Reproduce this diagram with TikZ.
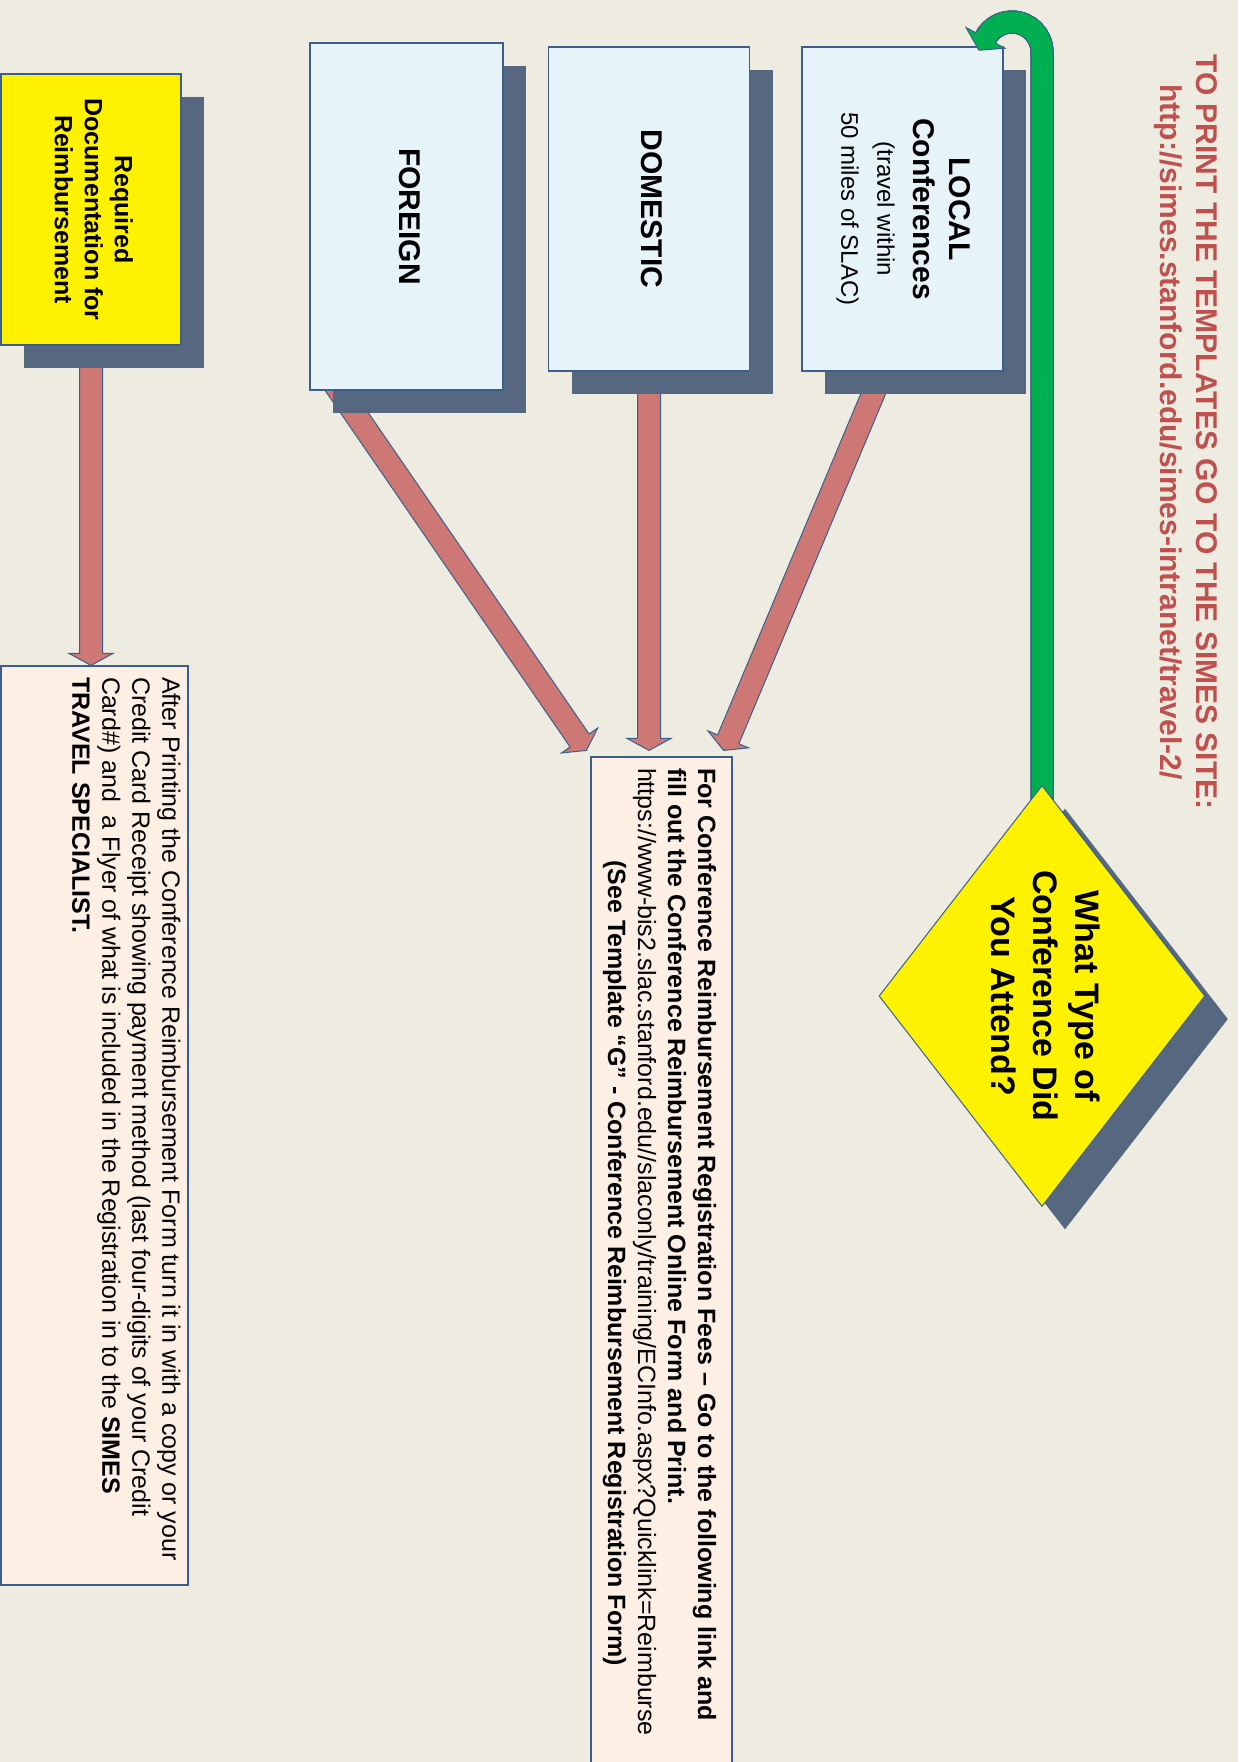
\documentclass[tikz,border=0pt]{standalone}
\usepackage{fontspec}
\setmainfont{Liberation Sans}
\usepackage{graphicx}
\usepackage{tikz}
\usetikzlibrary{calc,shapes.geometric,shadows}

\definecolor{pagebg}{HTML}{EEEBE0}
\definecolor{boxblue}{HTML}{E6F3F8}
\definecolor{boxpink}{HTML}{FDEFE3}
\definecolor{boxline}{HTML}{3B5E8C}
\definecolor{shade}{HTML}{56687F}
\definecolor{arrowred}{HTML}{CD7874}
\definecolor{titlered}{HTML}{C0504D}
\definecolor{turngreen}{HTML}{00B050}

\pgfdeclarelayer{back}
\pgfdeclarelayer{mid}
\pgfsetlayers{back,mid,main}

\tikzset{
  shadowed/.style={drop shadow={shadow xshift=11.5pt,shadow yshift=-11.5pt,fill=shade,opacity=1}},
  typebox/.style={draw=boxline,line width=0.6pt,fill=boxblue,shadowed,inner sep=0pt,
    minimum width=100.5pt,minimum height=162pt,font=\fontsize{15}{18}\selectfont\bfseries},
  yellowbox/.style={draw=boxline,line width=0.6pt,fill=yellow,shadowed,inner sep=0pt},
  notebox/.style={draw=boxline,line width=0.6pt,fill=boxpink,inner sep=0pt,
    font=\fontsize{12.5}{15}\selectfont},
  blockarrow/.style={fill=arrowred,draw=boxline,line width=0.5pt},
  uturnline/.style={draw=boxline,line width=0.5pt,double=turngreen,double distance=10.5pt}
}

\newcommand{\sidetext}[1]{\rotatebox{-90}{\begin{tabular}{@{}c@{}}#1\end{tabular}}}
\newcommand{\sidepar}[3]{\rotatebox{-90}{\begin{minipage}[c][#1][t]{#2}\raggedright #3\end{minipage}}}
\newcommand{\blockarrow}[2]{%
  \coordinate (hb) at ($(#2)!6pt!(#1)$);
  \filldraw[blockarrow] ($(#1)!5.75pt!90:(#2)$) -- ($(hb)!5.75pt!90:(#2)$)
    -- ($(hb)!11pt!90:(#2)$) -- (#2) -- ($(hb)!11pt!-90:(#2)$)
    -- ($(hb)!5.75pt!-90:(#2)$) -- ($(#1)!5.75pt!-90:(#2)$) -- cycle;
}

\begin{document}
\begin{tikzpicture}[x=0.5pt,y=-0.5pt]
    \useasboundingbox (0,0) rectangle (1238,1762);
    \begin{pgfonlayer}{back}
        \fill[pagebg] (0,0) rectangle (1238,1762);
    \end{pgfonlayer}

    \node[text=titlered,font=\fontsize{15}{18}\selectfont\bfseries] (title) at (1186,432)
        {\sidetext{TO PRINT THE TEMPLATES GO TO THE SIMES SITE:\\
        http://simes.stanford.edu/simes-intranet/travel-2/}};

    \node[typebox] (local) at (902.5,209)
        {\sidetext{LOCAL\\ Conferences\\
        \mdseries\fontsize{12}{14}\selectfont (travel within\\
        \mdseries\fontsize{12}{14}\selectfont 50 miles of SLAC)}};
    \node[typebox] (domestic) at (649,209) {\sidetext{DOMESTIC}};
    \node[typebox,minimum width=96.5pt,minimum height=173.5pt] (foreign) at (406.5,216.5)
        {\sidetext{FOREIGN}};
    \node[yellowbox,minimum width=90pt,minimum height=135.5pt,
        font=\fontsize{12.5}{15}\selectfont\bfseries] (reqdoc) at (91,209.5)
        {\sidetext{Required\\ Documentation for\\ Reimbursement}};

    \node[diamond,aspect=0.774,draw=boxline,line width=0.5pt,fill=yellow,shadowed,
        inner sep=0pt,minimum width=163pt,minimum height=210.5pt,
        font=\fontsize{17}{21}\selectfont\bfseries] (question) at (1042,996)
        {\sidetext{What Type of\\ Conference Did\\ You Attend?}};

    \node[notebox,minimum width=70.5pt,minimum height=506pt] (regfees) at (661.5,1263)
        {\sidepar{54.7pt}{495pt}{%
        \textbf{For Conference Reimbursement Registration Fees – Go to the following link and}\\
        \textbf{fill out the Conference Reimbursement Online Form and Print.}\\
        https://www-bis2.slac.stanford.edu//slaconly/training/ECInfo.aspx?Quicklink=Reimburse\\
        \makebox[\linewidth]{\textbf{(See Template “G” - Conference Reimbursement Registration Form)}}}};
    \node[notebox,minimum width=93.5pt,minimum height=459.5pt] (afterprint) at (94.5,1125.5)
        {\sidepar{86pt}{448.5pt}{%
        After Printing the Conference Reimbursement Form turn it in with a copy or your\\
        Credit Card Receipt showing payment method (last four-digits of your Credit\\
        Card\#) and\ \ a Flyer of what is included in the Registration in to the \textbf{SIMES}\\
        \textbf{TRAVEL SPECIALIST.}}};

    \coordinate (fromF) at ($(foreign.south west)+(16,-20)$);
    \coordinate (toF) at ($(regfees.north west)+(-4,-6)$);
    \coordinate (toD) at ($(domestic.south |- regfees.north)+(0,-6)$);
    \coordinate (fromL) at ($(local.south)+(-20,0)$);
    \coordinate (toL) at ($(regfees.north east)+(-9,-6)$);
    \coordinate (toR) at (reqdoc.south |- afterprint.north);

    \begin{pgfonlayer}{mid}
        \foreach \a/\b in {fromF/toF, domestic.south/toD, fromL/toL, reqdoc.south/toR}
            \blockarrow{\a}{\b}
        \draw[uturnline] (question.center) -- (question.center |- 0,52)
            arc[start angle=0,end angle=-152,radius=30] coordinate (uturn);
    \end{pgfonlayer}
    \filldraw[fill=turngreen,draw=boxline,line width=0.5pt]
        ($(uturn)+(9.7,5.2)$) -- ($(uturn)+(19.4,10.3)$) -- ($(uturn)+(-6.6,12.3)$)
        -- ($(uturn)+(-19.4,-10.3)$) -- ($(uturn)+(-9.7,-5.2)$);
\end{tikzpicture}
\end{document}
